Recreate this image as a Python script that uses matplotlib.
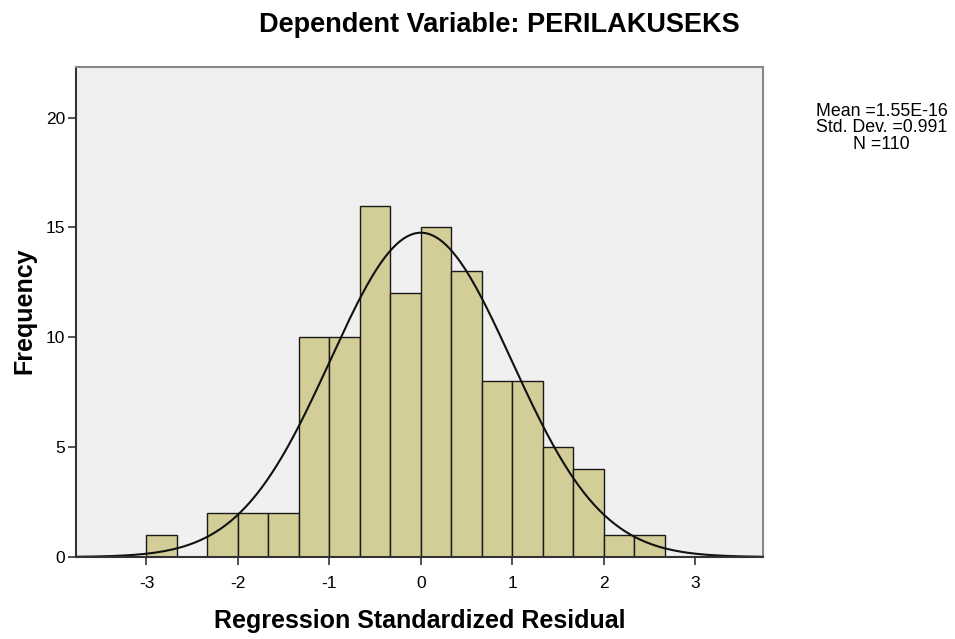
import numpy as np
import matplotlib.pyplot as plt

plt.rcParams['font.family'] = ['Liberation Sans', 'DejaVu Sans']

# histogram bins (bin width 1/3) and counts
bin_edges = [-3.0, -2.667, -2.333, -2.0, -1.667, -1.333, -1.0, -0.667, -0.333, 0.0,
             0.333, 0.667, 1.0, 1.333, 1.667, 2.0, 2.333, 2.667]
counts = [1, 0, 2, 2, 2, 10, 10, 16, 12, 15, 13, 8, 8, 5, 4, 1, 1]
mean = 1.55e-16
std = 0.991
n = 110
x_ticks = [-3, -2, -1, 0, 1, 2, 3]
y_ticks = [0, 5, 10, 15, 20]

fig = plt.figure(figsize=(9.55, 6.39), dpi=100)
ax = fig.add_axes([0.0796, 0.1283, 0.7194, 0.7667])
ax.set_facecolor('#f0f0f0')

lefts = np.array(bin_edges[:-1])
widths = np.diff(bin_edges)
for l, w, c in zip(lefts, widths, counts):
    if c > 0:
        ax.bar(l, c, width=w, align='edge', color='#d3ce97', edgecolor='#1a1a1a', linewidth=1.0)

# normal curve scaled to counts
bw = 1.0 / 3
xs = np.linspace(-3.77, 3.74, 400)
ys = n * bw / (std * np.sqrt(2 * np.pi)) * np.exp(-0.5 * ((xs - mean) / std) ** 2)
ax.plot(xs, ys, color='#111111', linewidth=1.5)

ax.set_xlim(-3.77, 3.74)
ax.set_ylim(0, 22.3)
ax.set_xticks(x_ticks)
ax.set_xticklabels([str(t) for t in x_ticks])
ax.set_yticks(y_ticks)
ax.tick_params(direction='out', length=6, width=1.2, labelsize=12.5, color='#333333', pad=2)
ax.tick_params(axis='x', pad=8)

for side in ['left', 'bottom']:
    ax.spines[side].set_color('#333333')
    ax.spines[side].set_linewidth(1.5)
for side in ['top', 'right']:
    ax.spines[side].set_color('#888888')
    ax.spines[side].set_linewidth(1.5)

fig.text(0.44, 0.028, 'Regression Standardized Residual', ha='center', va='center',
         fontsize=18, fontweight='bold')
fig.text(0.025, 0.513, 'Frequency', ha='center', va='center', rotation=90,
         fontsize=18, fontweight='bold')
fig.text(0.5225, 0.961, 'Dependent Variable: PERILAKUSEKS', ha='center', va='center',
         fontsize=19.5, fontweight='bold')
fig.text(0.923, 0.8, 'Mean =1.55E-16\nStd. Dev. =0.991\nN =110', ha='center', va='center',
         fontsize=12.8, linespacing=0.95)

fig.savefig('out.png', dpi=100)
